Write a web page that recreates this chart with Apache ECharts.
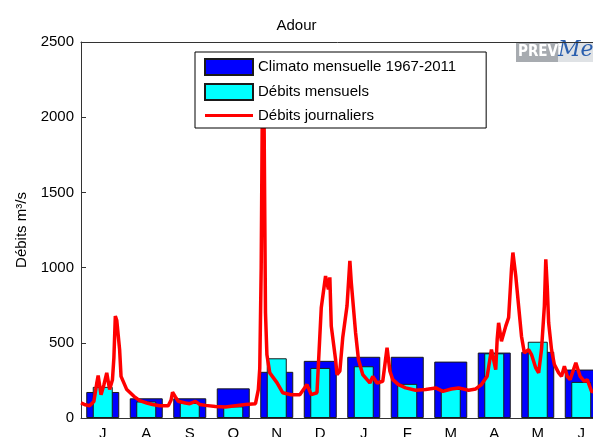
<!DOCTYPE html>
<html>
<head>
<meta charset="utf-8">
<script src="https://cdn.jsdelivr.net/npm/echarts@6/dist/echarts.min.js"></script>
<style>
  html, body { margin: 0; padding: 0; background: #fff; }
  #main { width: 593px; height: 437px; }
</style>
</head>
<body>
<div id="main"></div>
<script>
// months from July to June
const months = ['J', 'A', 'S', 'O', 'N', 'D', 'J', 'F', 'M', 'A', 'M', 'J'];
const halfMonths = ['', '', '', '', '', '', '', '', '', '', '', '', '', '', '', '', '', '', '', '', '', '', '', ''];
const climato = [173, 131, 131, 197, 307, 380, 407, 407, 375, 435, 440, 322];
const debitsMensuels = [207, 110, 100, 77, 397, 333, 344, 227, 193, 430, 507, 240];

// daily flows: day number since 1 July, value m3/s
const jours = [0, 3, 6, 9, 11, 12, 14, 16, 18, 20, 22, 23, 24, 25, 27, 28, 32, 37, 41, 46,
    50, 55, 61, 63, 64, 66, 68, 73, 76, 80, 83, 87, 94, 101, 108, 115, 122, 124, 125, 126,
    127, 128, 129, 130, 132, 137, 141, 147, 153, 158, 161, 165, 167, 168, 169, 171, 173, 174, 175, 178,
    179, 181, 183, 186, 188, 189, 192, 194, 197, 202, 204, 207, 211, 214, 216, 218, 222, 227, 234, 241,
    248, 253, 259, 264, 271, 276, 280, 284, 287, 290, 291, 292, 294, 297, 299, 301, 302, 304, 306, 308,
    310, 313, 315, 318, 320, 322, 324, 325, 326, 327, 329, 331, 334, 336, 338, 340, 342, 346, 349, 352,
    354, 357, 361, 365];
const debitsJournaliers = [100, 88, 82, 110, 230, 282, 155, 220, 300, 189, 255, 400, 677, 650, 455, 277, 189, 144, 115, 100,
    90, 82, 82, 120, 171, 140, 111, 100, 95, 111, 90, 84, 77, 73, 82, 89, 95, 189, 330, 1000,
    2350, 2000, 700, 420, 300, 235, 168, 155, 155, 222, 155, 168, 544, 733, 720, 944, 855, 935, 611, 389,
    289, 311, 533, 744, 1044, 900, 567, 389, 289, 233, 277, 233, 244, 467, 311, 255, 222, 200, 184, 189,
    200, 177, 193, 200, 184, 193, 222, 277, 455, 322, 522, 633, 511, 611, 667, 989, 1100, 944, 744, 544,
    433, 455, 422, 333, 300, 455, 744, 1055, 877, 633, 455, 355, 300, 277, 344, 277, 255, 367, 277, 244,
    255, 177, 170, 160];

const police = 'Liberation Sans, Arial, Helvetica, sans-serif';
const axisColor = '#333';

let plot = echarts.init(document.querySelector('#main'), null, { renderer: 'canvas' });

const option = {
    animation: false,
    textStyle: { fontFamily: police, color: '#000' },
    title: {
        text: 'Adour',
        left: 'center',
        top: 13,
        textStyle: { fontFamily: police, fontSize: 15, fontWeight: 'normal', color: '#000' }
    },
    legend: {
        orient: 'vertical',
        left: 195,
        top: 52,
        padding: [6, 30, 5, 9],
        itemWidth: 48,
        itemHeight: 16,
        itemGap: 7,
        backgroundColor: '#fff',
        borderColor: '#000',
        borderWidth: 1,
        borderRadius: 0,
        textStyle: { fontFamily: police, fontSize: 15, color: '#000' },
        data: [
            { name: 'Climato mensuelle 1967-2011', icon: 'rect' },
            { name: 'Débits mensuels', icon: 'rect' },
            { name: 'Débits journaliers', icon: 'path://M0,0L48,0L48,3L0,3Z' }
        ]
    },
    grid: { left: 81, top: 42, right: -10, bottom: 19, containLabel: false, outerBoundsMode: 'none' },
    xAxis: [
        {
            type: 'category',
            data: months,
            position: 'bottom',
            axisLine: { lineStyle: { color: axisColor } },
            axisTick: { inside: true, length: 5, lineStyle: { color: axisColor } },
            axisLabel: { fontFamily: police, fontSize: 15, color: '#000', margin: 8 }
        },
        {
            type: 'category',
            data: halfMonths,
            position: 'top',
            axisLine: { lineStyle: { color: axisColor } },
            axisTick: { inside: true, length: 5, interval: 0, lineStyle: { color: axisColor } },
            axisLabel: { show: false }
        },
        {
            type: 'value',
            min: 0,
            max: 365,
            show: false
        },
        {
            type: 'category',
            data: months,
            show: false
        }
    ],
    yAxis: {
        type: 'value',
        min: 0,
        max: 2500,
        interval: 500,
        name: 'Débits m³/s',
        nameLocation: 'middle',
        nameGap: 46,
        nameTextStyle: { fontFamily: police, fontSize: 15, color: '#000' },
        axisLine: { show: true, lineStyle: { color: axisColor } },
        axisTick: { show: true, inside: true, length: 5, lineStyle: { color: axisColor } },
        axisLabel: { fontFamily: police, fontSize: 15, color: '#000', margin: 7, formatter: v => String(v) },
        splitLine: { show: false }
    },
    series: [
        {
            name: 'Climato mensuelle 1967-2011',
            type: 'bar',
            xAxisIndex: 0,
            barWidth: 33,
            data: climato,
            itemStyle: { color: '#0000ff', borderColor: '#1a1a1a', borderWidth: 1 }
        },
        {
            name: 'Débits mensuels',
            type: 'bar',
            xAxisIndex: 3,
            barWidth: 20,
            data: debitsMensuels,
            itemStyle: { color: '#00ffff', borderColor: '#1a1a1a', borderWidth: 1 }
        },
        {
            name: 'Débits journaliers',
            type: 'line',
            xAxisIndex: 2,
            symbol: 'none',
            data: jours.map((d, i) => [d, debitsJournaliers[i]]),
            lineStyle: { color: '#ff0000', width: 3.5 },
            itemStyle: { color: '#ff0000' },
            z: 3
        }
    ],
    graphic: [
        { type: 'rect', left: 516, top: 43, shape: { width: 42, height: 19 }, style: { fill: '#a7abb0' } },
        { type: 'rect', left: 558, top: 43, shape: { width: 40, height: 19 }, style: { fill: '#dfe2e5' } },
        {
            type: 'text', left: 518, top: 45,
            style: { text: 'PREVi', fill: '#fff', font: 'bold 15px "DejaVu Sans Condensed", sans-serif' }
        },
        {
            type: 'text', left: 558, top: 39,
            style: { text: 'Me', fill: '#2b5fae', font: 'italic 22px "DejaVu Serif", serif' }
        }
    ]
};

plot.setOption(option);
</script>
</body>
</html>
